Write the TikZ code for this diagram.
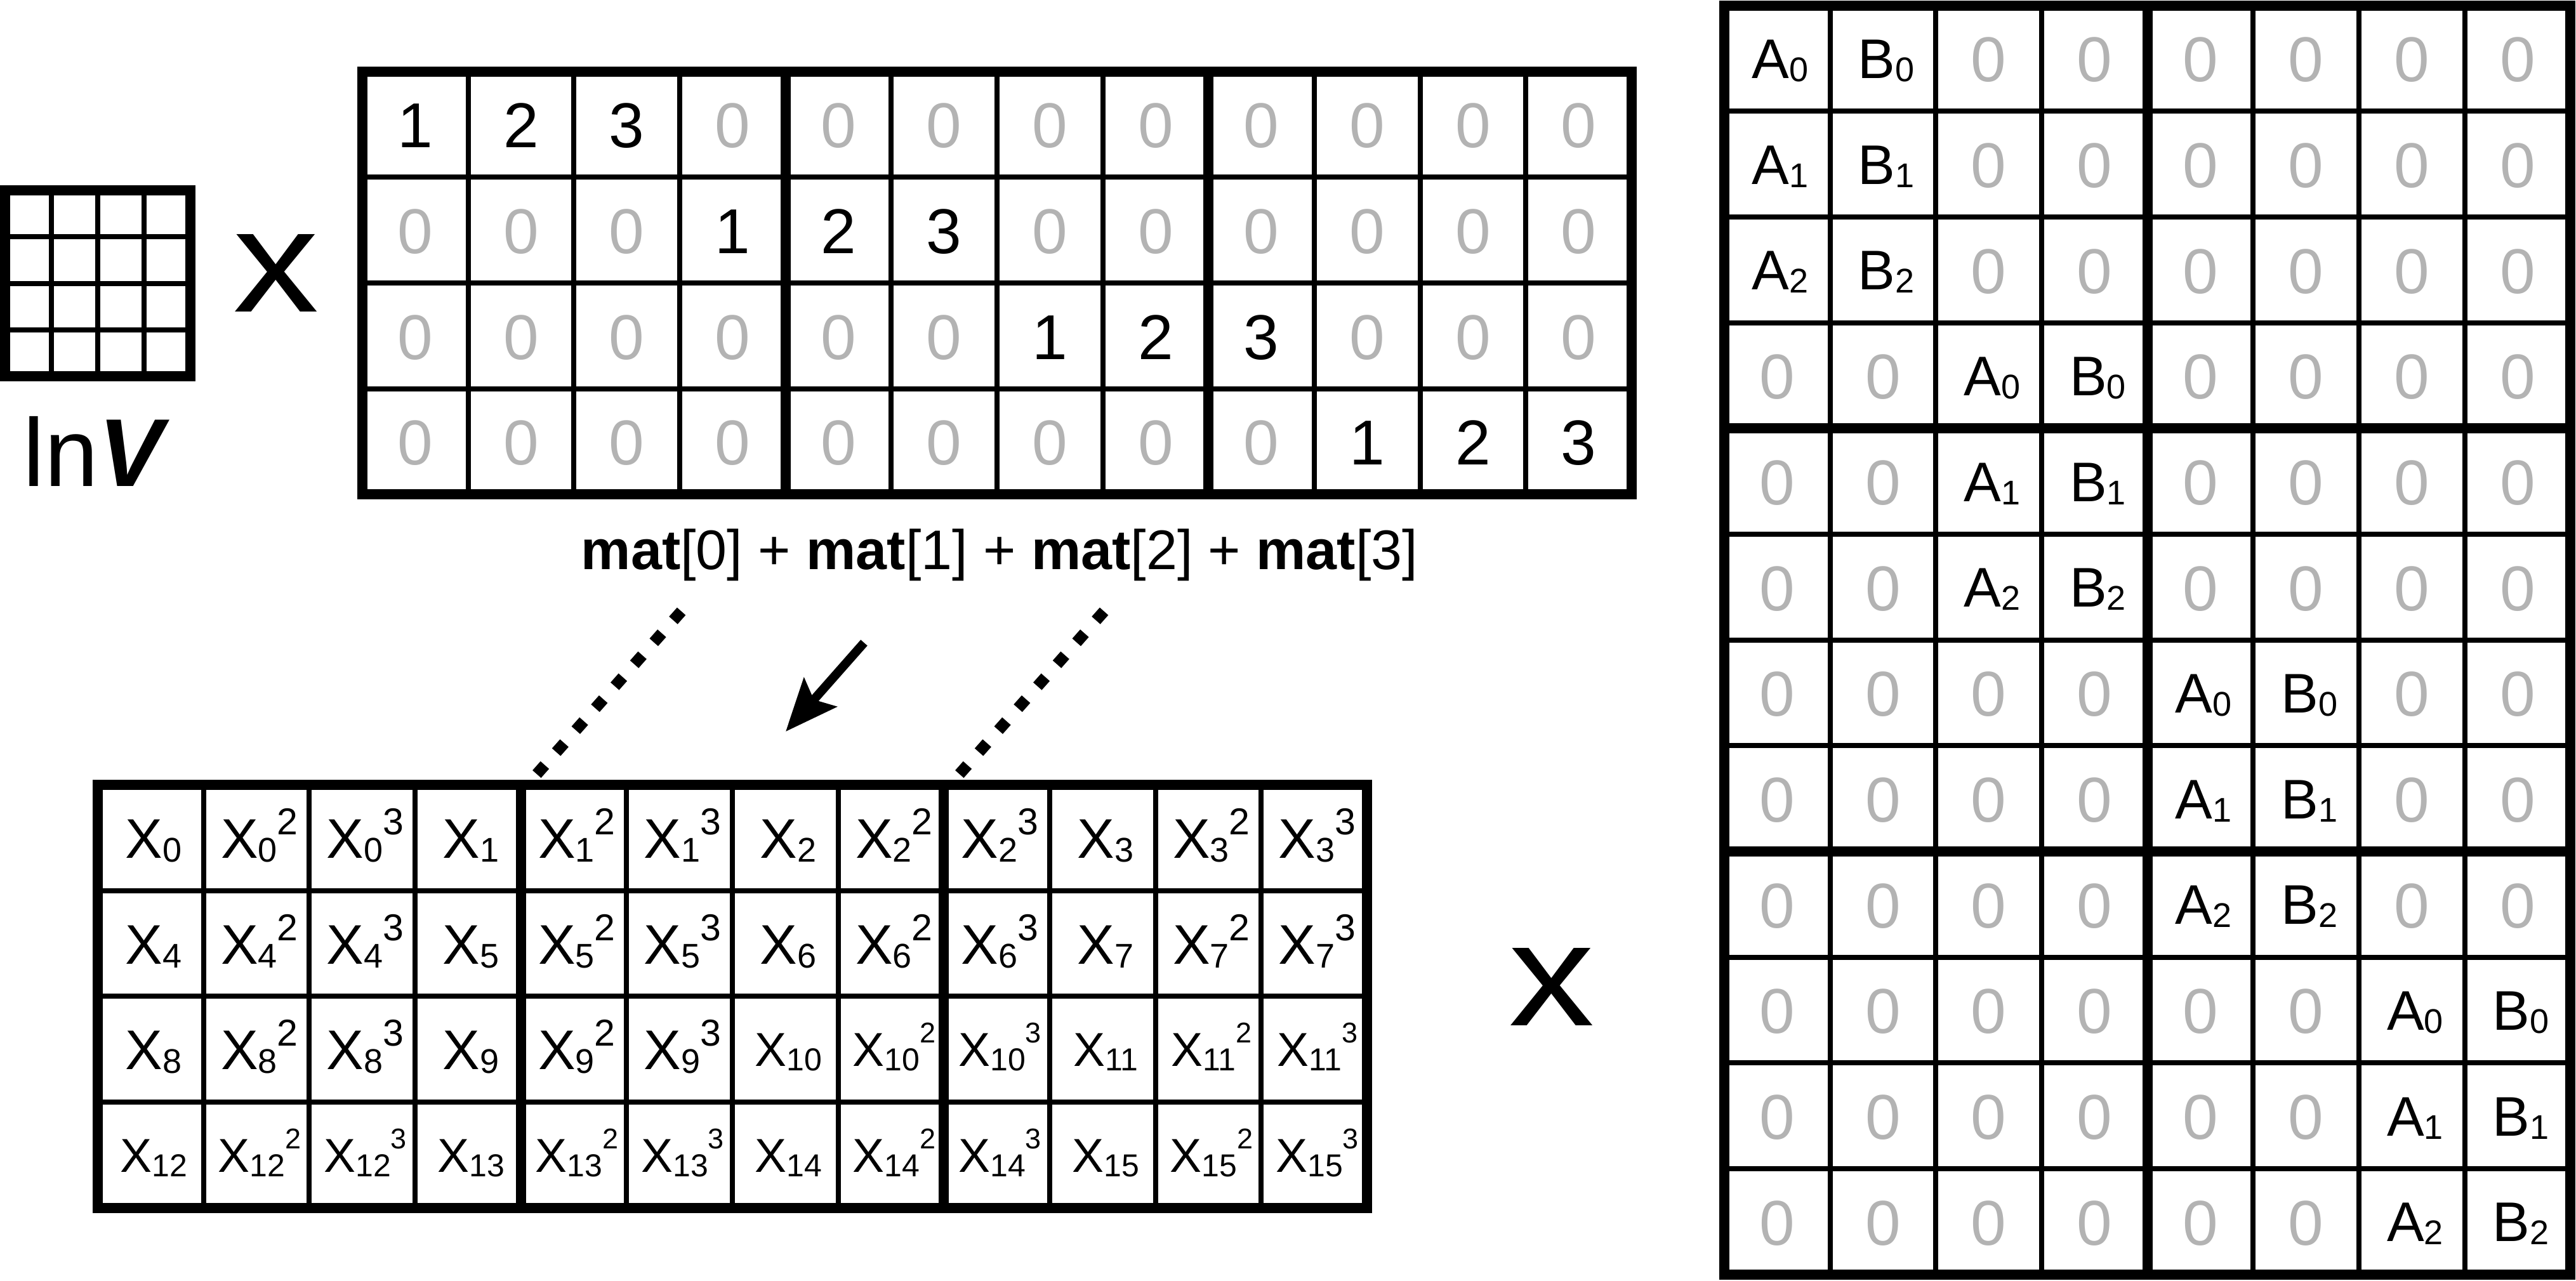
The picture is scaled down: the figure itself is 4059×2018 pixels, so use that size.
\documentclass[tikz,border=0pt]{standalone}
\usepackage{fontspec}
\setmainfont{Liberation Sans}
\usetikzlibrary{arrows.meta}
\definecolor{zgray}{HTML}{B3B3B3}
\newcommand\cellfont{\fontsize{10pt}{12pt}\selectfont}
\newcommand\Xbig[2]{{\fontsize{8.8pt}{10pt}\selectfont X}\raisebox{-0.6pt}{\fontsize{5.4pt}{6pt}\selectfont #1}\ifnum#2>1\relax\raisebox{3.7pt}{\fontsize{5.9pt}{6pt}\selectfont #2}\fi}
\newcommand\Xsmall[2]{{\fontsize{7.5pt}{9pt}\selectfont X}\raisebox{-0.7pt}{\fontsize{5pt}{6pt}\selectfont #1}\ifnum#2>1\relax\raisebox{3.7pt}{\fontsize{4.5pt}{5pt}\selectfont #2}\fi}
\newcommand\AB[2]{{\fontsize{8.8pt}{10pt}\selectfont #1}\raisebox{-0.5pt}{\fontsize{5.4pt}{6pt}\selectfont #2}}
\begin{document}
\begin{tikzpicture}[x=0.1pt,y=-0.1pt,
  gthin/.style={line width=0.8pt},
  gthick/.style={line width=1.6pt},
  numcell/.style={anchor=base,inner sep=0pt,font=\cellfont},
  lettercell/.style={anchor=base,inner sep=0pt},
  dotline/.style={line width=1.8pt,dash pattern=on 1.9pt off 2.73pt},
  bigx/.style={anchor=base,inner sep=0pt,font=\fontsize{23.1pt}{25pt}\selectfont}]
\useasboundingbox (0,0) rectangle (4059,2018);
\def\cs{166.6667}
% ---------- lnV icon ----------
\foreach \i in {1,2,3}{
  \draw[gthin] (8+73*\i,300) -- (8+73*\i,593);
  \draw[gthin] (8,300+73.25*\i) -- (300,300+73.25*\i);
}
\draw[gthick] (8,300) rectangle (300,593);
\node[anchor=base west,inner sep=0pt,font=\fontsize{15.2pt}{17pt}\selectfont] (lnv) at (35,766) {ln\textbf{\textit{V}}};
\node[bigx] (times1) at (435,491) {\scalebox{1.17}[1]{x}};
% ---------- top matrix ----------
\foreach \i in {1,...,11} \draw[gthin] (571+\cs*\i,112.5) -- ++(0,4*\cs);
\foreach \j in {1,2,3} \draw[gthin] (571,112.5+\cs*\j) -- ++(12*\cs,0);
\foreach \i in {4,8} \draw[gthick] (571+\cs*\i,112.5) -- ++(0,4*\cs);
\draw[gthick] (571,112.5) rectangle ++(12*\cs,4*\cs);
\foreach \r in {0,...,3}{
  \foreach \c in {0,...,11}{
    \pgfmathtruncatemacro\dd{\c-3*\r}
    \pgfmathtruncatemacro\vv{\dd+1}
    \ifnum\dd<0
      \node[numcell,text=zgray] (t-\r-\c) at (571+\cs*\c+\cs/2,112.5+\cs*\r+\cs/2+37) {0};
    \else\ifnum\dd>2
      \node[numcell,text=zgray] (t-\r-\c) at (571+\cs*\c+\cs/2,112.5+\cs*\r+\cs/2+37) {0};
    \else
      \node[numcell] (t-\r-\c) at (571+\cs*\c+\cs/2,112.5+\cs*\r+\cs/2+37) {\vv};
    \fi\fi
  }
}
\node[anchor=base,inner sep=0pt,font=\fontsize{8.8pt}{10pt}\selectfont] (sum) at (1575,897)
  {\textbf{mat}[0] + \textbf{mat}[1] + \textbf{mat}[2] + \textbf{mat}[3]};
% ---------- bottom matrix ----------
\foreach \i in {1,...,11} \draw[gthin] (154+\cs*\i,1237) -- ++(0,4*\cs);
\foreach \j in {1,2,3} \draw[gthin] (154,1237+\cs*\j) -- ++(12*\cs,0);
\foreach \i in {4,8} \draw[gthick] (154+\cs*\i,1237) -- ++(0,4*\cs);
\draw[gthick] (154,1237) rectangle ++(12*\cs,4*\cs);
\foreach \r in {0,...,3}{
  \foreach \c in {0,...,11}{
    \pgfmathtruncatemacro\kk{4*\r+floor(\c/3)}
    \pgfmathtruncatemacro\pp{mod(\c,3)+1}
    \ifnum\kk<10
      \node[lettercell] (b-\r-\c) at (154+\cs*\c+\cs/2+5,1237+\cs*\r+\cs/2+32) {\Xbig{\kk}{\pp}};
    \else
      \node[lettercell] (b-\r-\c) at (154+\cs*\c+\cs/2+5,1237+\cs*\r+\cs/2+27) {\Xsmall{\kk}{\pp}};
    \fi
  }
}
% ---------- right matrix ----------
\foreach \i in {1,...,7} \draw[gthin] (2717+\cs*\i,8.5) -- ++(0,12*\cs);
\foreach \j in {1,...,11} \draw[gthin] (2717,8.5+\cs*\j) -- ++(8*\cs,0);
\draw[gthick] (2717+\cs*4,8.5) -- ++(0,12*\cs);
\foreach \j in {4,8} \draw[gthick] (2717,8.5+\cs*\j) -- ++(8*\cs,0);
\draw[gthick] (2717,8.5) rectangle ++(8*\cs,12*\cs);
\foreach \r in {0,...,11}{
  \foreach \c in {0,...,7}{
    \pgfmathtruncatemacro\blk{floor(\r/3)}
    \pgfmathtruncatemacro\ii{mod(\r,3)}
    \pgfmathtruncatemacro\ca{2*\blk}
    \pgfmathtruncatemacro\cb{2*\blk+1}
    \ifnum\c=\ca
      \node[lettercell] (m-\r-\c) at (2717+\cs*\c+\cs/2+5,8.5+\cs*\r+\cs/2+31.5) {\AB{A}{\ii}};
    \else\ifnum\c=\cb
      \node[lettercell] (m-\r-\c) at (2717+\cs*\c+\cs/2+5,8.5+\cs*\r+\cs/2+31.5) {\AB{B}{\ii}};
    \else
      \node[numcell,text=zgray] (m-\r-\c) at (2717+\cs*\c+\cs/2,8.5+\cs*\r+\cs/2+37) {0};
    \fi\fi
  }
}
\node[bigx] (times2) at (2445.5,1616) {\scalebox{1.17}[1]{x}};
% ---------- dotted guides and arrow ----------
\coordinate (d1a) at (1073.6,963.5);
\coordinate (d1b) at (845.4,1220.5);
\coordinate (d2a) at (1739.6,963.5);
\coordinate (d2b) at (1511.4,1220.5);
\draw[dotline] (d1a) -- (d1b);
\draw[dotline] (d2a) -- (d2b);
\coordinate (a1) at (1361.5,1013);
\coordinate (a2) at (1238,1153);
\draw[line width=1.4pt,-{Stealth[length=8.2pt,width=6.8pt,inset=1.5pt]}] (a1) -- (a2);
\end{tikzpicture}
\end{document}
